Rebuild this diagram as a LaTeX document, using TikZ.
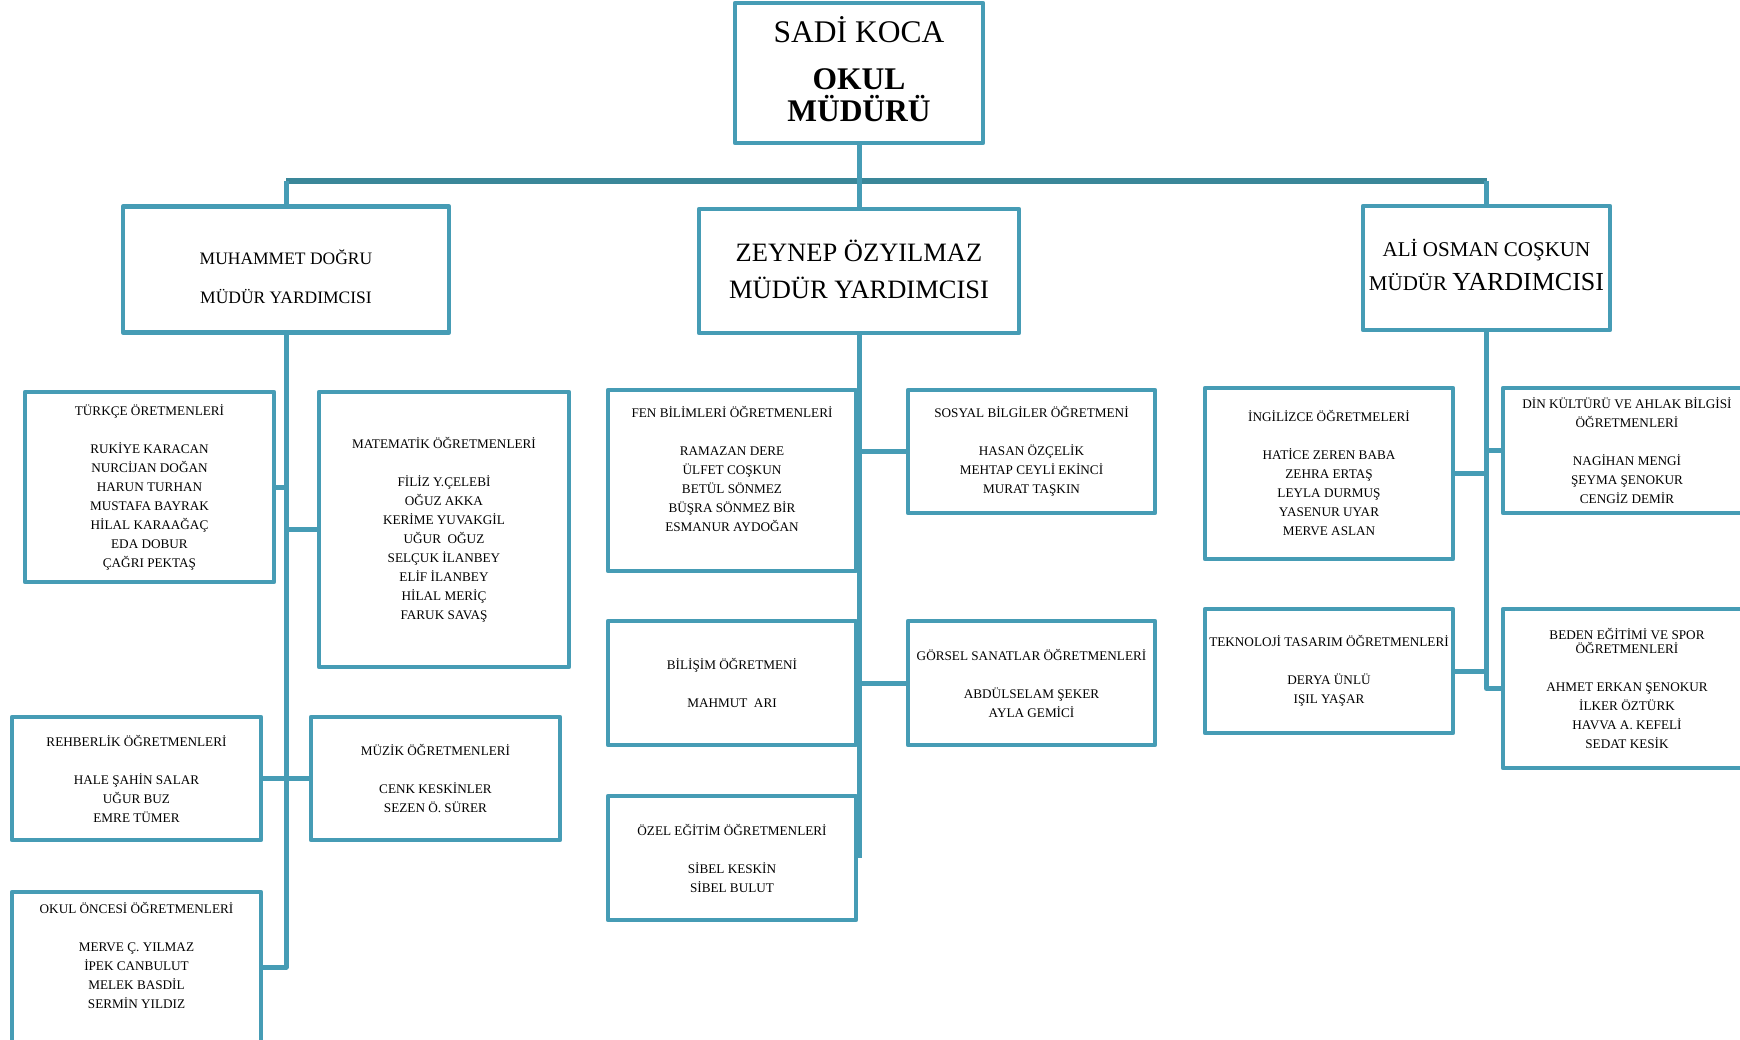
\documentclass[tikz,border=0pt]{standalone}
\usepackage{fontspec}
\setmainfont{Liberation Serif}
\definecolor{boxc}{RGB}{70,156,181}
\definecolor{barc}{RGB}{58,135,153}
\tikzset{
  box/.style={draw=boxc, line width=4.5pt, rectangle, inner sep=0pt, align=center,
    font=\fontsize{13.2}{19}\selectfont, text=black, line join=round},
  conn/.style={draw=boxc, line width=5pt},
  barline/.style={draw=barc, line width=5.5pt},
}
\begin{document}
\begin{tikzpicture}[x=1pt,y=-1pt]
\path[use as bounding box, fill=white] (0,0) rectangle (1740,1040);
\clip (0,0) rectangle (1740,1040);

% top
\node[box, minimum width=248pt, minimum height=140pt, font=\fontsize{31.5}{32}\selectfont] (top) at (859,73)
  {SADİ KOCA\\[15pt]\textbf{OKUL}\\\textbf{MÜDÜRÜ}\rule[-7pt]{0pt}{7pt}};

% deputies
\node[box, minimum width=326pt, minimum height=126pt, font=\fontsize{17.5}{39}\selectfont] (muh) at (286,269.5)
  {\rule{0pt}{30pt}MUHAMMET DOĞRU\\MÜDÜR YARDIMCISI};
\node[box, minimum width=320pt, minimum height=124pt, font=\fontsize{26.5}{37}\selectfont] (zey) at (859,271)
  {ZEYNEP ÖZYILMAZ\\MÜDÜR YARDIMCISI\rule[-4pt]{0pt}{4pt}};
\node[box, minimum width=247pt, minimum height=124pt, font=\fontsize{21}{34}\selectfont] (ali) at (1486.5,268)
  {ALİ OSMAN COŞKUN\\MÜDÜR {\fontsize{26}{34}\selectfont YARDIMCISI}\rule[-7pt]{0pt}{7pt}};

% left column
\node[box, minimum width=249pt, minimum height=190pt] (tur) at (149.5,487)
  {TÜRKÇE ÖRETMENLERİ\\[19pt]RUKİYE KARACAN\\NURCİJAN DOĞAN\\HARUN TURHAN\\MUSTAFA BAYRAK\\HİLAL KARAAĞAÇ\\EDA DOBUR\\ÇAĞRI PEKTAŞ};
\node[box, minimum width=250pt, minimum height=275pt] (mat) at (444,529.5)
  {MATEMATİK ÖĞRETMENLERİ\\[19pt]FİLİZ Y.ÇELEBİ\\OĞUZ AKKA\\KERİME YUVAKGİL\\UĞUR\ \ OĞUZ\\SELÇUK İLANBEY\\ELİF İLANBEY\\HİLAL MERİÇ\\FARUK SAVAŞ};
\node[box, minimum width=249pt, minimum height=123pt] (reh) at (136.5,778.5)
  {REHBERLİK ÖĞRETMENLERİ\\[19pt]HALE ŞAHİN SALAR\\UĞUR BUZ\\EMRE TÜMER};
\node[box, minimum width=249pt, minimum height=123pt] (muz) at (435.5,778.5)
  {MÜZİK ÖĞRETMENLERİ\\[19pt]CENK KESKİNLER\\SEZEN Ö. SÜRER};
\node[box, minimum width=249pt, minimum height=153pt] (okul) at (136.5,968.5)
  {OKUL ÖNCESİ ÖĞRETMENLERİ\\[19pt]MERVE Ç. YILMAZ\\İPEK CANBULUT\\MELEK BASDİL\\SERMİN YILDIZ\rule[-26pt]{0pt}{26pt}};

% middle column
\node[box, minimum width=248pt, minimum height=181pt] (fen) at (732,480.5)
  {FEN BİLİMLERİ ÖĞRETMENLERİ\\[19pt]RAMAZAN DERE\\ÜLFET COŞKUN\\BETÜL SÖNMEZ\\BÜŞRA SÖNMEZ BİR\\ESMANUR AYDOĞAN\rule[-24pt]{0pt}{24pt}};
\node[box, minimum width=247pt, minimum height=123pt] (sos) at (1031.5,451.5)
  {SOSYAL BİLGİLER ÖĞRETMENİ\\[19pt]HASAN ÖZÇELİK\\MEHTAP CEYLİ EKİNCİ\\MURAT TAŞKIN};
\node[box, minimum width=248pt, minimum height=124pt] (bil) at (732,683)
  {BİLİŞİM ÖĞRETMENİ\\[19pt]MAHMUT\ \ ARI};
\node[box, minimum width=247pt, minimum height=124pt] (gor) at (1031.5,683)
  {GÖRSEL SANATLAR ÖĞRETMENLERİ\\[19pt]ABDÜLSELAM ŞEKER\\AYLA GEMİCİ};
\node[box, minimum width=248pt, minimum height=124pt] (ozel) at (732,858)
  {ÖZEL EĞİTİM ÖĞRETMENLERİ\\[19pt]SİBEL KESKİN\\SİBEL BULUT};

% right column
\node[box, minimum width=248pt, minimum height=171pt] (ing) at (1329,473.5)
  {İNGİLİZCE ÖĞRETMELERİ\\[19pt]HATİCE ZEREN BABA\\ZEHRA ERTAŞ\\LEYLA DURMUŞ\\YASENUR UYAR\\MERVE ASLAN};
\node[box, minimum width=248pt, minimum height=125pt] (din) at (1627,450.5)
  {DİN KÜLTÜRÜ VE AHLAK BİLGİSİ\\ÖĞRETMENLERİ\\[19pt]NAGİHAN MENGİ\\ŞEYMA ŞENOKUR\\CENGİZ DEMİR};
\node[box, minimum width=248pt, minimum height=124pt] (tek) at (1329,671)
  {TEKNOLOJİ TASARIM ÖĞRETMENLERİ\\[19pt]DERYA ÜNLÜ\\IŞIL YAŞAR};
\node[box, minimum width=248pt, minimum height=159pt] (bed) at (1627,688.5)
  {BEDEN EĞİTİMİ VE SPOR\\[-5pt]ÖĞRETMENLERİ\\[19pt]AHMET ERKAN ŞENOKUR\\İLKER ÖZTÜRK\\HAVVA A. KEFELİ\\SEDAT KESİK};

% top connectors
\coordinate (barL) at (286,181);
\coordinate (barR) at (1486.5,181);
\coordinate (barM) at (859,181);
\draw[barline] (barL) -- (barR);
\draw[conn] (top.south) -- (barM);
\draw[conn] (barM) -- (zey.north);
\draw[conn] (barL) -- (muh.north);
\draw[conn] (barR) -- (ali.north);

% left connectors
\draw[conn, line join=round] (muh.south) |- (okul.east |- 0,967);
\draw[conn] (tur.east) -- (tur.east -| muh.south);
\draw[conn] (mat.west) -- (mat.west -| muh.south);
\draw[conn] (reh.east) -- (muz.west);

% middle connectors
\draw[conn] (zey.south) -- (zey.south |- ozel.east);
\draw[conn] (zey.south |- sos.west) -- (sos.west);
\draw[conn] (zey.south |- gor.west) -- (gor.west);

% right connectors
\draw[conn, line join=round] (ali.south) |- (bed.west);
\draw[conn] (ing.east) -- (ing.east -| ali.south);
\draw[conn] (din.west) -- (din.west -| ali.south);
\draw[conn] (tek.east) -- (tek.east -| ali.south);
\end{tikzpicture}
\end{document}
